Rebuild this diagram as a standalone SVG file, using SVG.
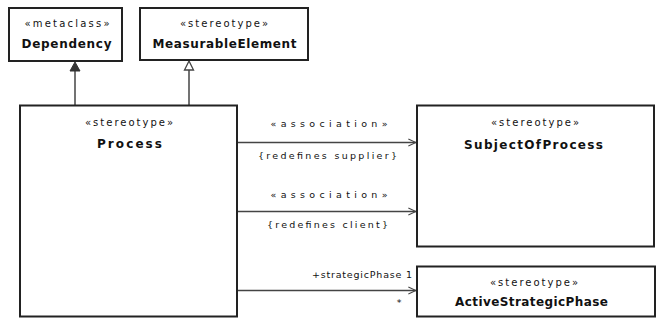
<svg xmlns="http://www.w3.org/2000/svg" width="664" height="333" viewBox="0 0 664 333">
<defs>
<style>
.box{fill:#fff;stroke:#222;stroke-width:2}
.st{font-family:"DejaVu Sans",Verdana,sans-serif;font-size:10px;fill:#111;text-anchor:middle}
.nm{font-family:"DejaVu Sans",Verdana,sans-serif;font-size:12px;font-weight:bold;fill:#111;text-anchor:middle}
.lb{font-family:"DejaVu Sans",Verdana,sans-serif;font-size:9.5px;fill:#111}
.ln{fill:none;stroke:#444;stroke-width:1.5}
</style>
<marker id="open" viewBox="0 0 10 10" refX="9.5" refY="5" markerWidth="9" markerHeight="9" markerUnits="userSpaceOnUse" orient="auto">
<path d="M1,1 L9.5,5 L1,9" fill="none" stroke="#444" stroke-width="1.2"/>
</marker>
</defs>
<rect width="664" height="333" fill="#fff"/>

<g id="connectors">
<line class="ln" x1="75" y1="71" x2="75" y2="105"/>
<polygon points="75,62 70,71 80,71" fill="#333" stroke="#333" stroke-width="1"/>
<line class="ln" x1="189" y1="70" x2="189" y2="105"/>
<polygon points="189,61 184.5,70 193.5,70" fill="#fff" stroke="#444" stroke-width="1.3"/>
<line class="ln" x1="238" y1="142.5" x2="416" y2="142.5" marker-end="url(#open)"/>
<text class="lb" x="329" y="126.5" text-anchor="middle" textLength="117" lengthAdjust="spacing">«association»</text>
<text class="lb" x="327.5" y="159" text-anchor="middle" textLength="139" lengthAdjust="spacing">{redefines supplier}</text>
<line class="ln" x1="238" y1="211.5" x2="416" y2="211.5" marker-end="url(#open)"/>
<text class="lb" x="329" y="197.5" text-anchor="middle" textLength="117" lengthAdjust="spacing">«association»</text>
<text class="lb" x="327.5" y="227.5" text-anchor="middle" textLength="121" lengthAdjust="spacing">{redefines client}</text>
<line class="ln" x1="238" y1="290.5" x2="416" y2="290.5" marker-end="url(#open)"/>
<text class="lb" x="412" y="277.5" text-anchor="end" textLength="100" lengthAdjust="spacing">+strategicPhase  1</text>
<text class="lb" x="399" y="306" text-anchor="middle">*</text>
</g>

<g id="dependency">
<rect class="box" x="9" y="8" width="113" height="53"/>
<text class="st" x="67" y="26.5" textLength="85" lengthAdjust="spacing">«metaclass»</text>
<text class="nm" x="66.5" y="47.5" textLength="90" lengthAdjust="spacing">Dependency</text>
</g>

<g id="measurableElement">
<rect class="box" x="140" y="8" width="168" height="52"/>
<text class="st" x="224" y="26.5" textLength="88" lengthAdjust="spacing">«stereotype»</text>
<text class="nm" x="224.5" y="47.5" textLength="144" lengthAdjust="spacing">MeasurableElement</text>
</g>

<g id="process">
<rect class="box" x="20" y="105.5" width="217" height="211"/>
<text class="st" x="129" y="125.5" textLength="88" lengthAdjust="spacing">«stereotype»</text>
<text class="nm" x="129.5" y="148" textLength="65" lengthAdjust="spacing">Process</text>
</g>

<g id="subjectOfProcess">
<rect class="box" x="417" y="105.5" width="237" height="141"/>
<text class="st" x="535" y="126" textLength="88" lengthAdjust="spacing">«stereotype»</text>
<text class="nm" x="533.5" y="149" textLength="139" lengthAdjust="spacing">SubjectOfProcess</text>
</g>

<g id="activeStrategicPhase">
<rect class="box" x="417" y="266.5" width="238" height="50"/>
<text class="st" x="534" y="285.5" textLength="88" lengthAdjust="spacing">«stereotype»</text>
<text class="nm" x="531.5" y="306" textLength="153" lengthAdjust="spacing">ActiveStrategicPhase</text>
</g>
</svg>
